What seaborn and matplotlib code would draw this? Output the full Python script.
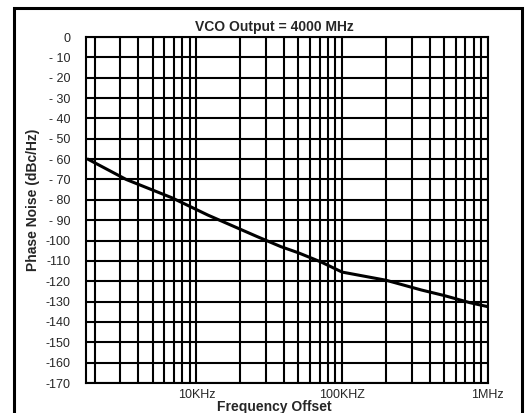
import matplotlib
matplotlib.use("Agg")
import matplotlib.pyplot as plt
from matplotlib.ticker import LogLocator, FixedLocator, NullFormatter
from matplotlib.patches import Rectangle
import pandas as pd
import seaborn as sns

# values
freq_hz = [1.8e3, 3.3e3, 6.8e3, 12e3, 26e3, 38e3, 50e3, 72e3,
           100e3, 200e3, 350e3, 500e3, 750e3, 1e6]
noise_dbc = [-60, -70, -79, -87.5, -98, -103, -106, -110.6,
             -115.5, -119.5, -124.3, -127, -130.5, -132.5]

x_ticks = [1e4, 1e5, 1e6]
x_labels = ["10KHz", "100KHZ", "1MHz"]
y_ticks = list(range(0, -171, -10))
y_labels = ["0"] + ["- %d" % (-v) for v in y_ticks[1:10]] + [str(v) for v in y_ticks[10:]]

df = pd.DataFrame({"freq": freq_hz, "noise": noise_dbc})

sns.set_style("white")
plt.rcParams["font.family"] = ["Liberation Sans", "DejaVu Sans"]

fig = plt.figure(figsize=(5.28, 4.13), dpi=100)
ax = fig.add_axes([0.163, 0.0726, 0.761, 0.8378])

sns.lineplot(data=df, x="freq", y="noise", color="black", linewidth=2.2, ax=ax)

ax.set_xscale("log")
ax.set_xlim(1.75e3, 1e6)
ax.set_ylim(-170, 0)

ax.xaxis.set_major_locator(FixedLocator(x_ticks))
ax.set_xticks(x_ticks, x_labels)
ax.xaxis.set_minor_locator(LogLocator(base=10, subs=[2, 3, 4, 5, 6, 7, 8, 9]))
ax.xaxis.set_minor_formatter(NullFormatter())
ax.set_yticks(y_ticks, y_labels)

ax.grid(which="both", color="black", linewidth=1.5)
ax.tick_params(axis="both", which="both", length=0, labelsize=9)
ax.tick_params(axis="y", pad=11)
ax.tick_params(axis="x", pad=4)
for s in ax.spines.values():
    s.set_color("black")
    s.set_linewidth(1.5)

ax.set_title("VCO Output = 4000 MHz", fontsize=10, fontweight="bold", x=0.468, pad=4)
ax.set_xlabel("Frequency Offset", fontsize=10, fontweight="bold")
ax.xaxis.set_label_coords(0.468, -0.048)
ax.set_ylabel("Phase Noise (dBc/Hz)", fontsize=10, fontweight="bold")
ax.yaxis.set_label_coords(-0.115, 0.53)

# outer frame around the whole figure
fig.patches.append(Rectangle((14 / 528, -0.05), 508 / 528, 1 - 8 / 413 + 0.05,
                             transform=fig.transFigure, fill=False,
                             edgecolor="black", linewidth=2.2, clip_on=False))

fig.savefig("out.png", dpi=100)
